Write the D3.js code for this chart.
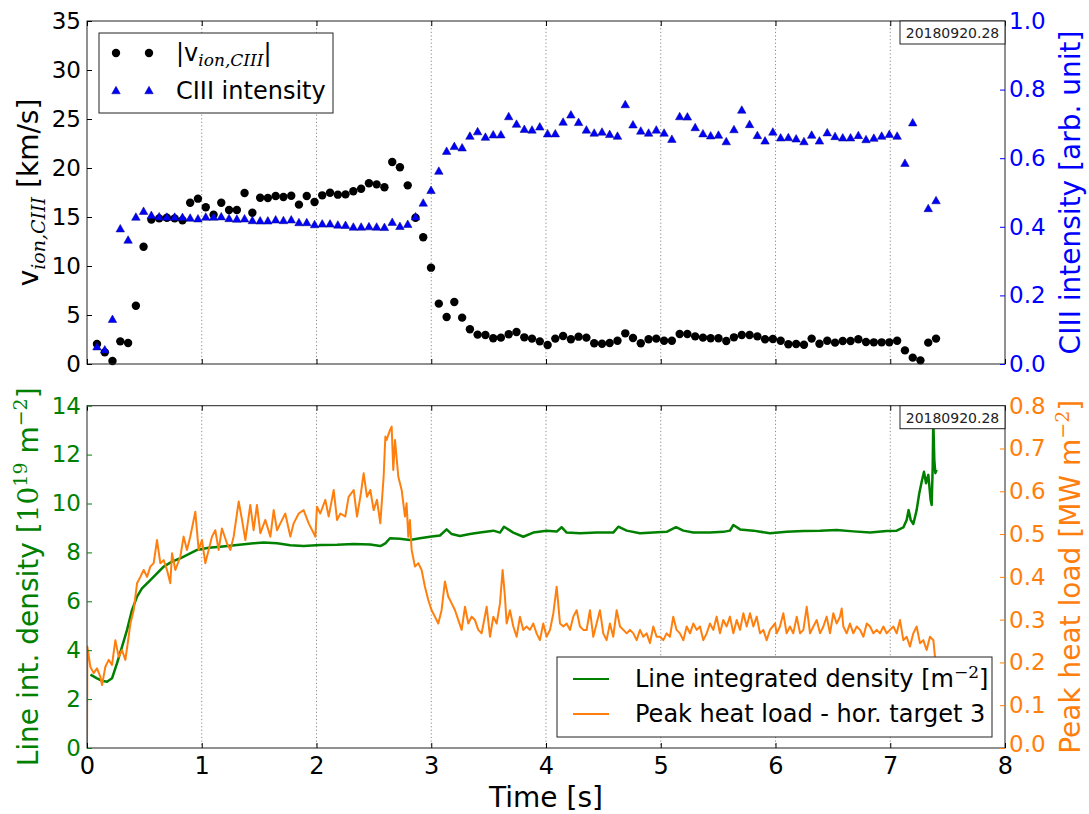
<!DOCTYPE html>
<html>
<head>
<meta charset="utf-8">
<script src="https://cdn.jsdelivr.net/npm/d3@7"></script>
<style>
  body { margin: 0; background: #fff; }
  svg { font-family: "DejaVu Sans", sans-serif; }
</style>
</head>
<body>
<svg id="chart" width="1089" height="814"></svg>
<script>
// ---- data ----
const shotId = '20180920.28';
const timeTicks = [0, 1, 2, 3, 4, 5, 6, 7, 8];
const velocityTicks = [0, 5, 10, 15, 20, 25, 30, 35];
const intensityTicks = [0, 0.2, 0.4, 0.6, 0.8, 1.0];
const densityTicks = [0, 2, 4, 6, 8, 10, 12, 14];
const heatTicks = [0, 0.1, 0.2, 0.3, 0.4, 0.5, 0.6, 0.7, 0.8];

// spectrometer frames [s]
const sampleTimes = [0.087,0.155,0.222,0.290,0.358,0.426,0.493,0.561,0.629,0.696,
  0.764,0.832,0.899,0.967,1.035,1.103,1.170,1.238,1.306,1.373,
  1.441,1.509,1.576,1.644,1.712,1.780,1.847,1.915,1.983,2.050,
  2.118,2.186,2.253,2.321,2.389,2.457,2.524,2.592,2.660,2.727,
  2.795,2.863,2.930,2.998,3.066,3.134,3.201,3.269,3.337,3.404,
  3.472,3.540,3.607,3.675,3.743,3.811,3.878,3.946,4.014,4.081,
  4.149,4.217,4.284,4.352,4.420,4.488,4.555,4.623,4.691,4.758,
  4.826,4.894,4.961,5.029,5.097,5.165,5.232,5.300,5.368,5.435,
  5.503,5.571,5.638,5.706,5.774,5.842,5.909,5.977,6.045,6.112,
  6.180,6.248,6.315,6.383,6.451,6.519,6.586,6.654,6.722,6.789,
  6.857,6.925,6.992,7.060,7.128,7.196,7.263,7.331,7.399];

// |v_ion,CIII| [km/s]
const ionVelocity = [2.04,1.19,0.31,2.31,2.14,5.95,11.97,14.73,14.86,14.93,
  14.86,14.66,16.46,16.87,15.99,15.24,16.46,15.71,15.71,17.45,
  15.44,16.97,16.94,17.14,17.04,17.17,16.26,17.14,16.53,17.21,
  17.48,17.28,17.31,17.62,17.89,18.44,18.33,18.03,20.61,20.07,
  18.23,14.93,12.93,9.83,6.16,4.80,6.33,4.73,3.54,3.00,
  2.96,2.62,2.69,3.03,3.27,2.72,2.59,2.31,1.94,2.59,
  2.86,2.52,2.79,2.69,2.11,2.07,2.14,2.38,3.13,2.65,
  2.11,2.52,2.59,2.38,2.38,3.06,3.06,2.82,2.69,2.62,
  2.62,2.35,2.72,2.96,2.96,2.82,2.52,2.55,2.38,2.01,
  2.04,1.97,2.59,2.07,2.38,2.18,2.35,2.35,2.52,2.24,
  2.21,2.21,2.21,2.38,1.39,0.65,0.37,2.18,2.59];

// CIII intensity [arb. unit], one frame missing
const ciiiIntensity = [0.052,0.043,0.132,0.396,0.363,0.430,0.447,0.435,0.431,0.430,
  0.430,0.429,0.427,0.425,0.430,0.430,0.431,0.426,0.424,0.425,
  0.420,0.419,0.419,0.422,0.420,0.422,0.414,0.414,0.408,0.410,
  0.410,0.407,0.406,0.401,0.401,0.402,0.401,0.400,0.415,0.403,
  0.409,0.431,0.471,0.508,0.564,0.622,0.636,0.632,0.666,0.679,
  0.663,0.670,0.670,0.723,0.701,0.686,0.684,0.693,0.673,0.673,
  0.707,0.728,0.706,0.684,0.675,0.678,0.671,0.666,0.758,0.699,
  0.681,0.675,0.684,0.675,0.657,0.723,0.722,0.691,0.673,0.667,
  0.669,0.650,0.685,0.742,0.700,0.668,0.652,0.678,0.661,0.662,
  0.658,0.650,0.669,0.652,0.676,0.665,0.661,0.661,0.668,0.656,
  0.660,0.666,0.671,0.666,0.587,0.705,null,0.455,0.478];

// line integrated density [1e19 m^-2] as [t, value]
const density = [[0.03,3.00],[0.087,2.85],[0.131,2.75],[0.174,2.71],[0.218,2.85],[0.261,3.46],
  [0.305,4.14],[0.349,4.83],[0.392,5.64],[0.436,6.19],[0.479,6.53],[0.552,6.87],[0.610,7.14],
  [0.668,7.42],[0.741,7.62],[0.813,7.76],[0.886,7.93],[0.959,8.10],[1.060,8.19],[1.162,8.23],
  [1.307,8.30],[1.452,8.37],[1.540,8.40],[1.656,8.37],[1.772,8.29],[1.888,8.26],[2.033,8.30],
  [2.179,8.31],[2.324,8.34],[2.469,8.32],[2.556,8.26],[2.600,8.37],[2.640,8.58],[2.727,8.56],
  [2.814,8.51],[2.901,8.58],[2.989,8.64],[3.076,8.69],[3.134,8.94],[3.178,8.75],[3.250,8.67],
  [3.337,8.75],[3.424,8.81],[3.541,8.89],[3.599,8.81],[3.634,9.05],[3.715,8.81],[3.802,8.64],
  [3.889,8.81],[4.005,8.89],[4.093,8.85],[4.136,9.03],[4.180,8.81],[4.296,8.78],[4.441,8.81],
  [4.586,8.81],[4.630,9.05],[4.703,8.89],[4.819,8.78],[4.935,8.81],[5.051,8.84],[5.133,9.03],
  [5.197,8.89],[5.284,8.81],[5.429,8.81],[5.545,8.84],[5.603,8.89],[5.633,9.12],[5.691,8.94],
  [5.807,8.89],[5.952,8.78],[6.097,8.84],[6.243,8.88],[6.388,8.89],[6.533,8.92],[6.678,8.86],
  [6.824,8.81],[6.969,8.88],[7.056,8.89],[7.114,9.02],[7.143,9.33],[7.160,9.73],[7.178,9.33],
  [7.201,9.16],[7.230,9.73],[7.253,10.42],[7.274,10.89],[7.294,11.30],[7.312,10.83],[7.332,11.17],
  [7.352,10.14],[7.361,9.94],[7.370,11.51],[7.375,13.42],[7.384,11.78],[7.393,11.24],[7.404,11.38]];

// peak heat load, horizontal target 3 [MW m^-2] as [t, value]
const heatLoad = [[0,0],[0.003,0.237],[0.029,0.190],[0.058,0.175],[0.087,0.186],[0.116,0.167],
  [0.131,0.147],[0.160,0.190],[0.189,0.206],[0.218,0.194],[0.247,0.252],[0.276,0.213],[0.305,0.229],
  [0.334,0.206],[0.363,0.260],[0.378,0.291],[0.407,0.322],[0.436,0.385],[0.465,0.400],[0.494,0.416],
  [0.523,0.400],[0.552,0.424],[0.581,0.432],[0.610,0.486],[0.639,0.432],[0.668,0.439],[0.697,0.416],
  [0.726,0.385],[0.741,0.455],[0.770,0.416],[0.813,0.447],[0.842,0.494],[0.871,0.463],[0.900,0.494],
  [0.944,0.552],[0.973,0.463],[1.002,0.486],[1.031,0.432],[1.060,0.463],[1.089,0.494],[1.118,0.509],
  [1.147,0.463],[1.176,0.513],[1.220,0.478],[1.249,0.463],[1.278,0.494],[1.322,0.576],[1.351,0.533],
  [1.380,0.486],[1.423,0.568],[1.452,0.509],[1.481,0.568],[1.511,0.502],[1.554,0.533],[1.598,0.494],
  [1.627,0.556],[1.656,0.509],[1.685,0.525],[1.728,0.548],[1.772,0.494],[1.801,0.525],[1.845,0.548],
  [1.888,0.556],[1.932,0.525],[1.990,0.494],[2.004,0.564],[2.033,0.548],[2.077,0.580],[2.106,0.541],
  [2.150,0.603],[2.179,0.533],[2.208,0.548],[2.251,0.541],[2.280,0.587],[2.324,0.603],[2.353,0.541],
  [2.382,0.587],[2.411,0.642],[2.440,0.587],[2.469,0.603],[2.498,0.556],[2.527,0.580],[2.556,0.525],
  [2.585,0.634],[2.600,0.728],[2.611,0.720],[2.640,0.743],[2.655,0.751],[2.669,0.650],[2.684,0.720],
  [2.713,0.634],[2.742,0.603],[2.771,0.541],[2.785,0.572],[2.800,0.494],[2.814,0.533],[2.829,0.463],
  [2.858,0.424],[2.887,0.432],[2.916,0.416],[2.945,0.377],[2.974,0.346],[3.003,0.322],[3.032,0.307],
  [3.061,0.291],[3.090,0.322],[3.119,0.389],[3.148,0.354],[3.178,0.338],[3.207,0.322],[3.236,0.299],
  [3.265,0.276],[3.294,0.330],[3.323,0.291],[3.352,0.307],[3.381,0.299],[3.410,0.276],[3.439,0.268],
  [3.483,0.330],[3.512,0.260],[3.541,0.307],[3.570,0.291],[3.599,0.338],[3.622,0.416],[3.642,0.354],
  [3.657,0.291],[3.686,0.322],[3.715,0.284],[3.744,0.260],[3.773,0.307],[3.802,0.276],[3.831,0.284],
  [3.860,0.276],[3.889,0.291],[3.918,0.268],[3.947,0.252],[3.976,0.291],[4.005,0.260],[4.035,0.276],
  [4.064,0.315],[4.093,0.377],[4.122,0.291],[4.151,0.284],[4.180,0.291],[4.209,0.276],[4.238,0.307],
  [4.267,0.322],[4.296,0.284],[4.325,0.276],[4.354,0.276],[4.383,0.322],[4.412,0.260],[4.441,0.291],
  [4.470,0.322],[4.499,0.268],[4.528,0.252],[4.557,0.291],[4.586,0.260],[4.616,0.322],[4.645,0.284],
  [4.674,0.276],[4.703,0.268],[4.732,0.276],[4.761,0.268],[4.790,0.252],[4.819,0.276],[4.848,0.260],
  [4.877,0.268],[4.906,0.245],[4.935,0.284],[4.964,0.260],[4.993,0.260],[5.022,0.252],[5.051,0.268],
  [5.080,0.260],[5.109,0.307],[5.138,0.276],[5.167,0.268],[5.197,0.252],[5.226,0.284],[5.255,0.268],
  [5.284,0.291],[5.313,0.276],[5.342,0.284],[5.371,0.252],[5.400,0.268],[5.429,0.291],[5.458,0.276],
  [5.487,0.307],[5.516,0.268],[5.545,0.299],[5.574,0.284],[5.603,0.307],[5.633,0.268],[5.662,0.299],
  [5.691,0.276],[5.720,0.315],[5.749,0.284],[5.778,0.315],[5.807,0.284],[5.836,0.307],[5.865,0.268],
  [5.894,0.276],[5.923,0.252],[5.952,0.276],[5.996,0.291],[6.010,0.268],[6.039,0.284],[6.068,0.315],
  [6.097,0.268],[6.126,0.284],[6.155,0.268],[6.185,0.307],[6.214,0.268],[6.243,0.276],[6.272,0.330],
  [6.301,0.268],[6.330,0.284],[6.359,0.299],[6.388,0.268],[6.417,0.284],[6.446,0.307],[6.475,0.268],
  [6.504,0.315],[6.533,0.291],[6.562,0.307],[6.577,0.326],[6.591,0.284],[6.620,0.268],[6.649,0.291],
  [6.678,0.268],[6.708,0.284],[6.737,0.276],[6.766,0.260],[6.795,0.291],[6.824,0.284],[6.853,0.268],
  [6.882,0.276],[6.911,0.268],[6.940,0.284],[6.969,0.268],[6.998,0.276],[7.027,0.284],[7.056,0.268],
  [7.085,0.299],[7.114,0.252],[7.143,0.260],[7.172,0.237],[7.201,0.268],[7.230,0.284],[7.259,0.245],
  [7.288,0.252],[7.317,0.229],[7.346,0.260],[7.376,0.252],[7.390,0.213]];

// ---- layout ----
const plotLeft = 87, plotRight = 1005;
const topPanel = { top: 21, bottom: 364 };
const botPanel = { top: 405.7, bottom: 748 };

const BLUE = '#0000ff', GREEN = '#008000', ORANGE = '#ff7f0e';
const tickFont = 23, labelFont = 28, legendFont = 24;

const svg = d3.select('#chart');

const x = d3.scaleLinear().domain([0, 8]).range([plotLeft, plotRight]);
const yVel = d3.scaleLinear().domain([0, 35]).range([topPanel.bottom, topPanel.top]);
const yInt = d3.scaleLinear().domain([0, 1]).range([topPanel.bottom, topPanel.top]);
const yDens = d3.scaleLinear().domain([0, 14]).range([botPanel.bottom, botPanel.top]);
const yHeat = d3.scaleLinear().domain([0, 0.8]).range([botPanel.bottom, botPanel.top]);

// appends a text made of styled runs; shift = baseline offset in px (down +)
function richText(sel, parts) {
  let cur = 0;
  parts.forEach(p => {
    const shift = p.shift || 0;
    sel.append('tspan')
      .attr('dy', shift - cur)
      .attr('font-family', p.serif ? '"DejaVu Serif", serif' : '"DejaVu Sans", sans-serif')
      .attr('font-style', p.italic ? 'italic' : 'normal')
      .attr('font-size', p.size)
      .text(p.t);
    cur = shift;
  });
  return sel;
}

function styleAxis(g, color) {
  g.select('.domain').remove();
  g.attr('font-family', '"DejaVu Sans", sans-serif').attr('font-size', tickFont);
  g.selectAll('.tick line').attr('stroke', color).attr('stroke-width', 1);
  g.selectAll('.tick text').attr('fill', color);
}

function gridlines(panel) {
  svg.append('g')
    .selectAll('line')
    .data(timeTicks.filter(t => t > 0 && t < 8))
    .join('line')
    .attr('x1', d => x(d)).attr('x2', d => x(d))
    .attr('y1', panel.top).attr('y2', panel.bottom)
    .attr('stroke', '#8a8a8a')
    .attr('stroke-width', 1)
    .attr('stroke-dasharray', '1.2,2.4');
}

function frame(panel) {
  svg.append('rect')
    .attr('x', plotLeft).attr('y', panel.top)
    .attr('width', plotRight - plotLeft).attr('height', panel.bottom - panel.top)
    .attr('fill', 'none').attr('stroke', '#222').attr('stroke-width', 1);
}

function timeTickMarks(panel, withLabels) {
  const bottom = svg.append('g')
    .attr('transform', `translate(0,${panel.bottom})`)
    .call(d3.axisBottom(x).tickValues(timeTicks).tickSize(-5).tickPadding(9)
      .tickFormat(withLabels ? d3.format('d') : ''));
  styleAxis(bottom, '#000');
  if (withLabels) bottom.selectAll('.tick text').attr('font-size', 24);
  const topAx = svg.append('g')
    .attr('transform', `translate(0,${panel.top})`)
    .call(d3.axisTop(x).tickValues(timeTicks).tickSize(-5).tickFormat(''));
  styleAxis(topAx, '#000');
}

function shotLabel(panel) {
  svg.append('rect')
    .attr('x', 900).attr('y', panel.top)
    .attr('width', plotRight - 900).attr('height', 23)
    .attr('fill', '#fff').attr('stroke', '#222').attr('stroke-width', 1);
  svg.append('text')
    .attr('x', (900 + plotRight) / 2).attr('y', panel.top + 17)
    .attr('text-anchor', 'middle')
    .attr('font-size', 14)
    .attr('fill', '#222')
    .text(shotId);
}

const triangle = (w, h) => `M0,${-h / 2}L${w / 2},${h / 2}L${-w / 2},${h / 2}Z`;

// ================= TOP PANEL =================
gridlines(topPanel);

const frames = sampleTimes.map((t, i) => ({ t, v: ionVelocity[i], c: ciiiIntensity[i] }));

svg.append('g')
  .selectAll('circle')
  .data(frames)
  .join('circle')
  .attr('cx', d => x(d.t))
  .attr('cy', d => yVel(d.v))
  .attr('r', 4.2)
  .attr('fill', '#000');

svg.append('g')
  .selectAll('path')
  .data(frames.filter(d => d.c !== null))
  .join('path')
  .attr('transform', d => `translate(${x(d.t)},${yInt(d.c)})`)
  .attr('d', triangle(8.5, 7.5))
  .attr('fill', BLUE)
  .attr('stroke', '#00007a')
  .attr('stroke-width', 0.5);

frame(topPanel);
timeTickMarks(topPanel, false);

const velAxis = svg.append('g')
  .attr('transform', `translate(${plotLeft},0)`)
  .call(d3.axisLeft(yVel).tickValues(velocityTicks).tickSize(-5).tickPadding(6).tickFormat(d3.format('d')));
styleAxis(velAxis, '#000');

const intAxis = svg.append('g')
  .attr('transform', `translate(${plotRight},0)`)
  .call(d3.axisRight(yInt).tickValues(intensityTicks).tickSize(-5).tickPadding(4).tickFormat(d3.format('.1f')));
styleAxis(intAxis, BLUE);

// axis titles
richText(svg.append('text')
  .attr('transform', `translate(38,${(topPanel.top + topPanel.bottom) / 2}) rotate(-90)`)
  .attr('text-anchor', 'middle').attr('fill', '#000'), [
  { t: 'v', size: labelFont },
  { t: 'ion,CIII', size: 19, serif: true, italic: true, shift: 7 },
  { t: ' [km/s]', size: labelFont }
]);

svg.append('text')
  .attr('transform', `translate(1080,${(topPanel.top + topPanel.bottom) / 2}) rotate(-90)`)
  .attr('text-anchor', 'middle').attr('fill', BLUE)
  .attr('font-size', labelFont)
  .text('CIII intensity [arb. unit]');

// legend
const legTop = svg.append('g');
legTop.append('rect')
  .attr('x', 99).attr('y', 33).attr('width', 234).attr('height', 80)
  .attr('fill', '#fff').attr('stroke', '#222').attr('stroke-width', 1);
[116, 149].forEach(cx => {
  legTop.append('circle').attr('cx', cx).attr('cy', 53).attr('r', 4.2).attr('fill', '#000');
  legTop.append('path')
    .attr('transform', `translate(${cx},90)`)
    .attr('d', triangle(8.5, 7.5))
    .attr('fill', BLUE).attr('stroke', '#00007a').attr('stroke-width', 0.5);
});
richText(legTop.append('text').attr('x', 176).attr('y', 61).attr('fill', '#000'), [
  { t: '|v', size: legendFont },
  { t: 'ion,CIII', size: 17, serif: true, italic: true, shift: 5 },
  { t: '|', size: legendFont }
]);
legTop.append('text')
  .attr('x', 176).attr('y', 99)
  .attr('font-size', legendFont).attr('fill', '#000')
  .text('CIII intensity');

shotLabel(topPanel);

// ================= BOTTOM PANEL =================
gridlines(botPanel);

svg.append('defs').append('clipPath').attr('id', 'clip-bot')
  .append('rect')
  .attr('x', plotLeft).attr('y', botPanel.top)
  .attr('width', plotRight - plotLeft).attr('height', botPanel.bottom - botPanel.top);

const lines = svg.append('g').attr('clip-path', 'url(#clip-bot)');

lines.append('path')
  .datum(density)
  .attr('d', d3.line().x(d => x(d[0])).y(d => yDens(d[1])))
  .attr('fill', 'none')
  .attr('stroke', GREEN)
  .attr('stroke-width', 2.5)
  .attr('stroke-linejoin', 'round');

lines.append('path')
  .datum(heatLoad)
  .attr('d', d3.line().x(d => x(d[0])).y(d => yHeat(d[1])))
  .attr('fill', 'none')
  .attr('stroke', ORANGE)
  .attr('stroke-width', 2)
  .attr('stroke-linejoin', 'round');

frame(botPanel);
timeTickMarks(botPanel, true);

const densAxis = svg.append('g')
  .attr('transform', `translate(${plotLeft},0)`)
  .call(d3.axisLeft(yDens).tickValues(densityTicks).tickSize(-5).tickPadding(6).tickFormat(d3.format('d')));
styleAxis(densAxis, GREEN);

const heatAxis = svg.append('g')
  .attr('transform', `translate(${plotRight},0)`)
  .call(d3.axisRight(yHeat).tickValues(heatTicks).tickSize(-5).tickPadding(4).tickFormat(d3.format('.1f')));
styleAxis(heatAxis, ORANGE);
// lift the lowest label a little so it clears the "8" below it
heatAxis.selectAll('.tick text').filter(d => d === 0).attr('dy', '0.15em');

richText(svg.append('text')
  .attr('transform', `translate(38,${(botPanel.top + botPanel.bottom) / 2}) rotate(-90)`)
  .attr('text-anchor', 'middle').attr('fill', GREEN), [
  { t: 'Line int. density [', size: labelFont },
  { t: '10', size: labelFont, serif: true },
  { t: '19', size: 19, serif: true, shift: -11 },
  { t: ' m', size: labelFont },
  { t: '\u22122', size: 19, serif: true, shift: -11 },
  { t: ']', size: labelFont }
]);

richText(svg.append('text')
  .attr('transform', `translate(1080,${(botPanel.top + botPanel.bottom) / 2}) rotate(-90)`)
  .attr('text-anchor', 'middle').attr('fill', ORANGE), [
  { t: 'Peak heat load [MW m', size: labelFont },
  { t: '\u22122', size: 19, serif: true, shift: -11 },
  { t: ']', size: labelFont }
]);

svg.append('text')
  .attr('x', (plotLeft + plotRight) / 2).attr('y', 807)
  .attr('text-anchor', 'middle')
  .attr('font-size', labelFont).attr('fill', '#000')
  .text('Time [s]');

// legend
const legBot = svg.append('g');
legBot.append('rect')
  .attr('x', 557).attr('y', 657).attr('width', 435).attr('height', 80)
  .attr('fill', '#fff').attr('stroke', '#222').attr('stroke-width', 1);
[{ y: 679, color: GREEN }, { y: 714, color: ORANGE }].forEach(e => {
  legBot.append('line')
    .attr('x1', 573).attr('x2', 609).attr('y1', e.y).attr('y2', e.y)
    .attr('stroke', e.color).attr('stroke-width', 2);
});
richText(legBot.append('text').attr('x', 635).attr('y', 687).attr('fill', '#000'), [
  { t: 'Line integrated density [m', size: legendFont },
  { t: '\u22122', size: 17, serif: true, shift: -9 },
  { t: ']', size: legendFont }
]);
legBot.append('text')
  .attr('x', 635).attr('y', 722)
  .attr('font-size', legendFont).attr('fill', '#000')
  .text('Peak heat load - hor. target 3');

shotLabel(botPanel);
</script>
</body>
</html>
